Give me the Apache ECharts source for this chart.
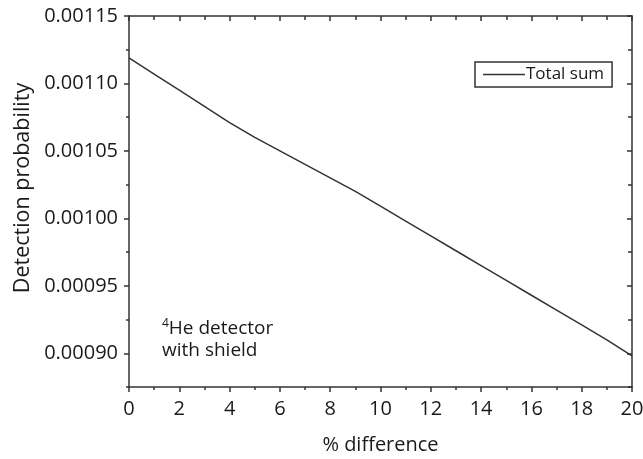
<!DOCTYPE html>
<html>
<head>
<meta charset="utf-8">
<script src="https://cdn.jsdelivr.net/npm/echarts@6/dist/echarts.min.js"></script>
<style>html,body{margin:0;padding:0;background:#fff}#c{width:643px;height:459px}</style>
</head>
<body>
<div id="c"></div>
<script>
var xValues = [0,1,2,3,4,5,6,7,8,9,10,11,12,13,14,15,16,17,18,19,20];
var totalSum = [0.001119,0.001107,0.001095,0.001083,0.001071,0.001060,0.001050,0.001040,0.001030,0.001020,0.001009,0.000998,0.000987,0.000976,0.000965,0.000954,0.000943,0.000932,0.000921,0.000910,0.000898];
var yTicks = [0.00090,0.00095,0.00100,0.00105,0.00110,0.00115];
var yMinorTicks = [0.000875,0.000925,0.000975,0.001025,0.001075,0.001125];
var seriesName = 'Total sum';

var FONT = 'Open Sans';
var AX = '#333';
var TXT = '#1a1a1a';
var chart = echarts.init(document.getElementById('c'), null, {renderer:'canvas'});
var data = xValues.map(function(x,i){return [x,totalSum[i]];});
var yMin = 0.000875, yMax = 0.00115;
function yAx(pos, inside, vals, len, showLine, showLabel){
  return {type:'value', min:yMin, max:yMax, position:pos, splitLine:{show:false},
    axisLine:{show:showLine, onZero:false, lineStyle:{color:AX,width:1.5}},
    axisTick:{show:true, inside:inside, length:len, customValues:vals, lineStyle:{color:AX,width:1.5}},
    axisLabel:{show:showLabel, customValues:vals, margin:11, fontFamily:FONT, fontSize:20, color:TXT,
      formatter:function(v){return v.toFixed(5);}}};
}
chart.setOption({
  animation:false,
  grid:{left:129,right:11,top:16,bottom:72,outerBoundsMode:'none',containLabel:false},
  legend:{left:475, top:62, padding:[4,8,4,8], borderColor:AX, borderWidth:1.5, borderRadius:0,
    icon:'rect', itemWidth:42, itemHeight:1.5, itemGap:0,
    textStyle:{fontFamily:FONT, fontSize:17, color:TXT, padding:[0,0,0,-4]},
    data:[seriesName]},
  xAxis:[
    {type:'value', min:0, max:20, interval:2, position:'bottom', splitLine:{show:false},
     axisLine:{onZero:false, lineStyle:{color:AX,width:1.5}},
     axisTick:{inside:false,length:5,lineStyle:{color:AX,width:1.5}},
     minorTick:{show:true, splitNumber:2, length:3, lineStyle:{color:AX,width:1.5}},
     axisLabel:{margin:12, fontFamily:FONT, fontSize:20, color:TXT},
     name:'% difference', nameLocation:'middle', nameGap:48,
     nameTextStyle:{fontFamily:FONT, fontSize:20, color:TXT}},
    {type:'value', min:0, max:20, interval:2, position:'top', splitLine:{show:false},
     axisLine:{onZero:false, lineStyle:{color:AX,width:1.5}},
     axisTick:{inside:true,length:5,lineStyle:{color:AX,width:1.5}},
     minorTick:{show:true, splitNumber:2, length:4, lineStyle:{color:AX,width:1.5}},
     axisLabel:{show:false}}
  ],
  yAxis:[
    yAx('left', false, yTicks, 5, true, true),
    yAx('left', false, yMinorTicks, 3, false, false),
    yAx('right', true, yTicks, 5, true, false),
    yAx('right', true, yMinorTicks, 4, false, false)
  ],
  graphic:[
    {type:'text', x:23, y:188, rotation:Math.PI/2, style:{text:'Detection probability', fontFamily:FONT, fontSize:21.5, fill:TXT, align:'center', verticalAlign:'middle'}},
    {type:'text', left:162, top:318, style:{text:'{sup|4}He detector\nwith shield', fontFamily:FONT, fontSize:19, fill:TXT, lineHeight:22,
      rich:{sup:{fontFamily:FONT, fontSize:12, fill:TXT, verticalAlign:'top', lineHeight:22, padding:[0,0,6,0]}}}}
  ],
  series:[{name:seriesName, type:'line', xAxisIndex:0, yAxisIndex:0, data:data, symbol:'none', showSymbol:false,
    lineStyle:{color:AX,width:1.5}, itemStyle:{color:AX}}]
});
</script>
</body>
</html>
